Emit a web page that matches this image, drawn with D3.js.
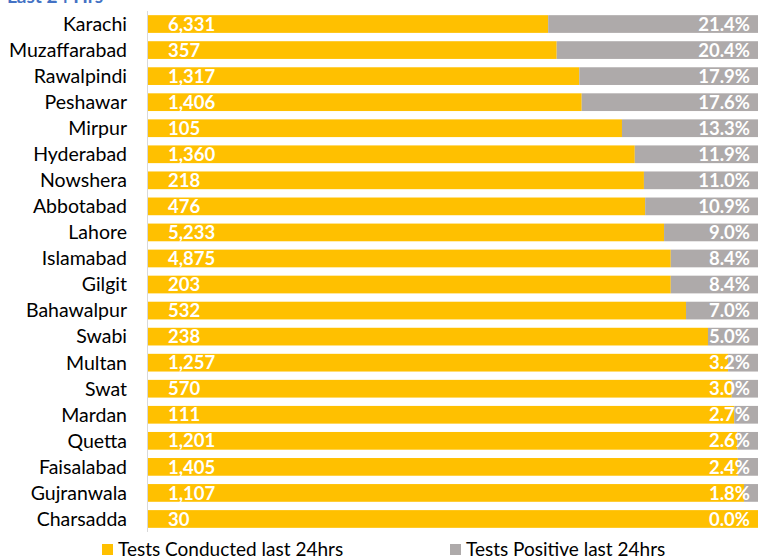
<!DOCTYPE html>
<html>
<head>
<meta charset="utf-8">
<script src="https://d3js.org/d3.v7.min.js"></script>
<style>
  body { margin: 0; background: #fff; }
  svg text { font-family: Lato, "Open Sans", sans-serif; }
</style>
</head>
<body>
<script>
/*
  Data
*/
var cities = ["Karachi", "Muzaffarabad", "Rawalpindi", "Peshawar", "Mirpur", "Hyderabad",
              "Nowshera ", "Abbotabad", "Lahore", "Islamabad", "Gilgit", "Bahawalpur",
              "Swabi", "Multan", "Swat", "Mardan", "Quetta", "Faisalabad", "Gujranwala", "Charsadda"];
var testsConducted = [6331, 357, 1317, 1406, 105, 1360, 218, 476, 5233, 4875, 203, 532,
                      238, 1257, 570, 111, 1201, 1405, 1107, 30];
var positiveRate = [21.4, 20.4, 17.9, 17.6, 13.3, 11.9, 11.0, 10.9, 9.0, 8.4, 8.4, 7.0,
                    5.0, 3.2, 3.0, 2.7, 2.6, 2.4, 1.8, 0.0];
// share of the bar that is grey, as drawn in the picture
var positiveShare = [0.344, 0.330, 0.293, 0.289, 0.223, 0.202, 0.187, 0.185, 0.154, 0.143,
                     0.143, 0.118, 0.082, 0.049, 0.043, 0.039, 0.034, 0.033, 0.023, 0.0];

var yellow = "#FFC000",
    grey = "#AEAAAA";

var width = 764,
    height = 558;

var svg = d3.select("body")
  .append("svg")
  .attr("width", width)
  .attr("height", height);

var rows = cities.map(function (c, i) {
  return { city: c, tests: testsConducted[i], rate: positiveRate[i], share: positiveShare[i] };
});

var x = d3.scaleLinear().domain([0, 1]).range([148, 758]);
var y = d3.scaleBand().domain(d3.range(cities.length)).range([11, 532]).paddingInner(0.32).paddingOuter(0.16);

// title, mostly cut off at the top
svg.append("text")
  .attr("x", 7)
  .attr("y", 3)
  .style("font-size", "19px")
  .style("font-weight", "bold")
  .style("fill", "#4472C4")
  .text("Last 24 Hrs");

var g = svg.selectAll("g.row")
  .data(rows)
  .enter()
  .append("g")
  .attr("class", "row");

// yellow part
g.append("rect")
  .attr("x", x(0))
  .attr("y", function (d, i) { return y(i); })
  .attr("width", function (d) { return x(1 - d.share) - x(0); })
  .attr("height", y.bandwidth())
  .style("fill", yellow);

// grey part
g.append("rect")
  .attr("x", function (d) { return x(1 - d.share); })
  .attr("y", function (d, i) { return y(i); })
  .attr("width", function (d) { return x(1) - x(1 - d.share); })
  .attr("height", y.bandwidth())
  .style("fill", grey);

// category labels
g.append("text")
  .attr("x", 127)
  .attr("y", function (d, i) { return y(i) + y.bandwidth() / 2; })
  .attr("dy", "0.35em")
  .attr("text-anchor", "end")
  .style("font-size", "19.5px")
  .style("fill", "#000")
  .text(function (d) { return d.city; });

// test counts
g.append("text")
  .attr("x", 168)
  .attr("y", function (d, i) { return y(i) + y.bandwidth() / 2; })
  .attr("dy", "0.36em")
  .style("font-size", "18.5px")
  .style("font-weight", "bold")
  .style("fill", "#fff")
  .text(function (d) { return d3.format(",")(d.tests); });

// positive rate
g.append("text")
  .attr("x", 750)
  .attr("y", function (d, i) { return y(i) + y.bandwidth() / 2; })
  .attr("dy", "0.36em")
  .attr("text-anchor", "end")
  .style("font-size", "18.5px")
  .style("font-weight", "bold")
  .style("fill", "#fff")
  .text(function (d) { return d.rate.toFixed(1) + "%"; });

// axis line
svg.append("line")
  .attr("x1", 147.5).attr("x2", 147.5)
  .attr("y1", 11).attr("y2", 532)
  .style("stroke", "#d9d9d9")
  .style("stroke-width", 1);

// legend
var legend = [
  { label: "Tests Conducted last 24hrs", color: yellow, x: 102 },
  { label: "Tests Positive last 24hrs", color: grey, x: 450 }
];
var lg = svg.selectAll("g.legend")
  .data(legend)
  .enter()
  .append("g")
  .attr("class", "legend");
lg.append("rect")
  .attr("x", function (d) { return d.x; })
  .attr("y", 544)
  .attr("width", 11)
  .attr("height", 11)
  .style("fill", function (d) { return d.color; });
lg.append("text")
  .attr("x", function (d) { return d.x + 16; })
  .attr("y", 556)
  .style("font-size", "19px")
  .style("fill", "#000")
  .text(function (d) { return d.label; });
</script>
</body>
</html>
